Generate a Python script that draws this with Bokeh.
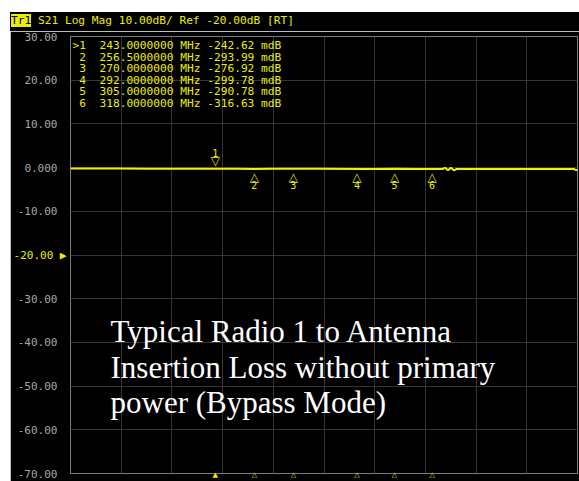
from bokeh.plotting import figure
from bokeh.models import (Range1d, FixedTicker, LinearAxis, Label, Spacer, Div,
                          ColumnDataSource)
from bokeh.layouts import column, row
from bokeh.core.properties import value
from bokeh.embed import file_html
from bokeh.resources import INLINE

# ---------------- data ----------------
X_START, X_STOP = 192.9, 368.3          # MHz shown across the grid
Y_MIN, Y_MAX = -70, 30                  # dB
SCALE_DIV = 10.0
REF_LEVEL = -20.0
Y_TICKS = [30, 20, 10, 0, -10, -20, -30, -40, -50, -60, -70]
Y_LABELS = ["30.00", "20.00", "10.00", "0.000", "-10.00", "-20.00",
            "-30.00", "-40.00", "-50.00", "-60.00", "-70.00"]

trace_freq = [192.9, 200, 210, 220, 230, 243, 250, 256.5, 263, 270, 280, 292,
              298, 305, 312, 318, 321.5, 322.5, 323.5, 324.5, 325.5, 326.5,
              330, 340, 350, 360, 367.0, 367.6, 368.3]
trace_db = [-0.22, -0.23, -0.23, -0.24, -0.24, -0.243, -0.27, -0.294, -0.28,
            -0.277, -0.29, -0.300, -0.295, -0.291, -0.30, -0.317, -0.32, -0.05,
            -0.62, -0.05, -0.62, -0.32, -0.31, -0.31, -0.31, -0.31, -0.31,
            -0.55, -0.55]

marker_id = ["1", "2", "3", "4", "5", "6"]
marker_freq = [243.0, 256.5, 270.0, 292.0, 305.0, 318.0]
marker_mdb = [-242.62, -293.99, -276.92, -299.78, -290.78, -316.63]

annotation_lines = ["Typical Radio 1 to Antenna",
                    "Insertion Loss without primary",
                    "power (Bypass Mode)"]

# ---------------- style ----------------
YEL = "#eded00"
TRACE = "#f2f200"
GRID = "#363636"
MONO = "DejaVu Sans Mono"
NB = "\u00a0"

p = figure(width=569, height=450, output_backend="svg", toolbar_location=None,
           x_range=Range1d(X_START, X_STOP), y_range=Range1d(Y_MIN, Y_MAX),
           x_axis_location=None,
           min_border_left=57, min_border_right=2, min_border_top=5, min_border_bottom=8,
           background_fill_color="black", border_fill_color="black",
           outline_line_color="#7d7d7d", outline_line_width=1)

# y axis (gray labels)
yt = FixedTicker(ticks=Y_TICKS)
ya = p.yaxis[0]
ya.ticker = yt
ya.major_label_overrides = {t: ("" if t == REF_LEVEL else s) for t, s in zip(Y_TICKS, Y_LABELS)}
ya.axis_line_color = None
ya.major_tick_line_color = None
ya.minor_tick_line_color = None
ya.major_tick_out = 0
ya.minor_tick_out = 0
ya.major_label_standoff = 13
ya.major_label_text_font = MONO
ya.major_label_text_font_size = "11px"
ya.major_label_text_color = "#a8a8a8"
p.ygrid.ticker = yt
p.ygrid.grid_line_color = GRID

# reference level label (yellow) with arrow, on its own axis aligned over the gray one
ref_axis = LinearAxis(ticker=FixedTicker(ticks=[REF_LEVEL]),
                      major_label_overrides={REF_LEVEL: Y_LABELS[Y_TICKS.index(REF_LEVEL)] + NB + "\u25B6"},
                      axis_line_color=None, major_tick_line_color=None,
                      minor_tick_line_color=None, major_tick_out=0, minor_tick_out=0,
                      major_label_standoff=-52, major_label_text_font=MONO,
                      major_label_text_font_size="11px", major_label_text_color=YEL)
p.add_layout(ref_axis, "left")

# marker position indicators under the grid (active one filled)
mk_axis = LinearAxis(ticker=FixedTicker(ticks=marker_freq),
                     major_label_overrides={f: ("\u25B2" if i == 0 else "\u25B3")
                                            for i, f in enumerate(marker_freq)},
                     axis_line_color=None, major_tick_line_color=None,
                     minor_tick_line_color=None, major_tick_out=0, minor_tick_out=0,
                     major_label_standoff=-3, major_label_text_font="DejaVu Sans",
                     major_label_text_font_size="7px", major_label_text_color=YEL)
p.add_layout(mk_axis, "below")

# x grid: 10 divisions
xticks = [X_START + i * (X_STOP - X_START) / 10 for i in range(11)]
p.xgrid.ticker = FixedTicker(ticks=xticks)
p.xgrid.grid_line_color = GRID

# trace
p.line(trace_freq, trace_db, line_color=TRACE, line_width=2)

# markers
marker_db = [m / 1000.0 for m in marker_mdb]
act = ColumnDataSource(dict(x=marker_freq[:1], y=marker_db[:1], t=marker_id[:1]))
oth = ColumnDataSource(dict(x=marker_freq[1:], y=marker_db[1:], t=marker_id[1:]))
p.text(x="x", y="y", text=value("\u25BD"), source=act, text_align="center",
       text_baseline="bottom", y_offset=-1, text_color=YEL, text_font_size="12px",
       text_font=value("DejaVu Sans"))
p.text(x="x", y="y", text="t", source=act, text_align="center",
       text_baseline="bottom", y_offset=-12, text_color=YEL, text_font_size="10px",
       text_font=value(MONO))
p.text(x="x", y="y", text=value("\u25B3"), source=oth, text_align="center",
       text_baseline="top", y_offset=1, text_color=YEL, text_font_size="12px",
       text_font=value("DejaVu Sans"))
p.text(x="x", y="y", text="t", source=oth, text_align="center",
       text_baseline="top", y_offset=12, text_color=YEL, text_font_size="10px",
       text_font=value(MONO))

# marker table
for i, (mid, f, v) in enumerate(zip(marker_id, marker_freq, marker_mdb)):
    line = f"{'>' if i == 0 else ' '}{mid}  {f:.7f} MHz {v:.2f} mdB".replace(" ", NB)
    p.add_layout(Label(text=line, x=62, y=14 + i * 11.5, x_units="canvas", y_units="canvas",
                       text_color=YEL, text_font=MONO, text_font_size="11.2px",
                       text_baseline="middle"))

# annotation
for i, t in enumerate(annotation_lines):
    p.add_layout(Label(text=t, x=100, y=300 + i * 35.5, x_units="canvas", y_units="canvas",
                       text_color="white", text_font="Liberation Serif",
                       text_font_size="31px", text_baseline="middle"))

# header bar
header = f"S21 Log Mag {SCALE_DIV:.2f}dB/ Ref {REF_LEVEL:.2f}dB [RT]"
head_html = (
    f"<div style=\"font-family:'{MONO}';font-size:11.2px;line-height:11px;color:{YEL};"
    f"white-space:pre;padding:1px 0 0 1px;margin:0;\">"
    f"<span style=\"background:{YEL};color:black;\">Tr1</span> {header}</div>"
)
head = Div(text=head_html, width=569, height=19,
           styles={"background-color": "black", "margin": "0", "padding": "0",
                   "overflow": "hidden"})

layout = column(Spacer(width=579, height=12),
                row(Spacer(width=10, height=469), column(head, p)))
open("out.html", "w").write(file_html(layout, INLINE))
